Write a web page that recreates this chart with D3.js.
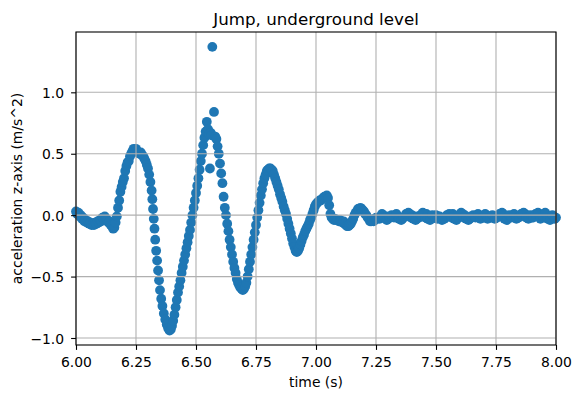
<!DOCTYPE html>
<html><head><meta charset="utf-8">
<script src="https://cdn.jsdelivr.net/npm/d3@7"></script>
<style>
body{margin:0;background:#fff}
text{font-family:"DejaVu Sans",sans-serif}
</style>
</head><body>
<svg id="c" width="572" height="397"></svg>
<script>
const chartTitle = "Jump, underground level";
const xLabel = "time (s)";
const yLabel = "acceleration z-axis (m/s^2)";
const xTicks = [6.00, 6.25, 6.50, 6.75, 7.00, 7.25, 7.50, 7.75, 8.00];
const yTicks = [-1.0, -0.5, 0.0, 0.5, 1.0];

const time = [
6.000,6.005,6.010,6.015,6.020,6.025,6.030,6.035,6.040,6.045,
6.050,6.055,6.060,6.065,6.070,6.075,6.080,6.085,6.090,6.095,
6.100,6.105,6.110,6.115,6.120,6.125,6.130,6.135,6.140,6.145,
6.150,6.155,6.160,6.165,6.170,6.175,6.180,6.185,6.190,6.195,
6.200,6.205,6.210,6.215,6.220,6.225,6.230,6.235,6.240,6.245,
6.250,6.255,6.260,6.265,6.270,6.275,6.280,6.285,6.290,6.295,
6.300,6.305,6.310,6.315,6.318,6.321,6.324,6.327,6.330,6.334,
6.338,6.342,6.346,6.350,6.355,6.360,6.366,6.372,6.378,6.384,6.390,
6.395,6.400,6.405,6.410,6.415,6.420,6.425,6.430,6.435,6.440,
6.445,6.450,6.455,6.460,6.465,6.470,6.475,6.480,6.485,6.490,
6.495,6.500,6.505,6.510,6.515,6.520,6.525,6.530,6.535,6.540,
6.545,6.550,6.555,6.558,6.562,6.565,6.568,6.575,6.580,6.585,
6.590,6.595,6.600,6.605,6.610,6.615,6.620,6.625,6.630,6.635,
6.640,6.645,6.650,6.655,6.660,6.665,6.670,6.675,6.680,6.685,
6.690,6.695,6.700,6.705,6.710,6.715,6.720,6.725,6.730,6.735,
6.740,6.745,6.750,6.755,6.760,6.765,6.770,6.775,6.780,6.785,
6.790,6.795,6.800,6.805,6.810,6.815,6.820,6.825,6.830,6.835,
6.840,6.845,6.850,6.855,6.860,6.865,6.870,6.875,6.880,6.885,
6.890,6.895,6.900,6.905,6.910,6.915,6.920,6.925,6.930,6.935,
6.940,6.945,6.950,6.955,6.960,6.965,6.970,6.975,6.980,6.985,
6.990,6.995,7.000,7.005,7.010,7.015,7.020,7.025,7.030,7.035,
7.040,7.045,7.050,7.055,7.060,7.065,7.070,7.075,7.080,7.085,
7.090,7.095,7.100,7.105,7.110,7.115,7.120,7.125,7.130,7.135,
7.140,7.145,7.150,7.155,7.160,7.165,7.170,7.175,7.180,7.185,
7.190,7.195,7.200,7.205,7.210,7.215,7.220,7.225,7.230,7.235,
7.240,7.245,7.250,
7.26,7.27,7.28,7.29,7.30,7.31,7.32,7.33,7.34,7.35,
7.36,7.37,7.38,7.39,7.40,7.41,7.42,7.43,7.44,7.45,
7.46,7.47,7.48,7.49,7.50,7.51,7.52,7.53,7.54,7.55,
7.56,7.57,7.58,7.59,7.60,7.61,7.62,7.63,7.64,7.65,
7.66,7.67,7.68,7.69,7.70,7.71,7.72,7.73,7.74,7.75,
7.76,7.77,7.78,7.79,7.80,7.81,7.82,7.83,7.84,7.85,
7.86,7.87,7.88,7.89,7.90,7.91,7.92,7.93,7.94,7.95,
7.96,7.97,7.98,7.99,8.00,
7.255,7.265,7.275,7.285,7.295,7.305,7.315,7.325,7.335,7.345,
7.355,7.365,7.375,7.385,7.395,7.405,7.415,7.425,7.435,7.445,
7.455,7.465,7.475,7.485,7.495,7.505,7.515,7.525,7.535,7.545,
7.555,7.565,7.575,7.585,7.595,7.605,7.615,7.625,7.635,7.645,
7.655,7.665,7.675,7.685,7.695,7.705,7.715,7.725,7.735,7.745,
7.755,7.765,7.775,7.785,7.795,7.805,7.815,7.825,7.835,7.845,
7.855,7.865,7.875,7.885,7.895,7.905,7.915,7.925,7.935,7.945,
7.955,7.965,7.975,7.985,7.995
];

const accel = [
0.03,0.01,0.02,-0.01,0.00,-0.03,-0.02,-0.05,-0.04,-0.06,
-0.05,-0.07,-0.06,-0.08,-0.07,-0.08,-0.06,-0.07,-0.05,-0.06,
-0.04,-0.05,-0.02,-0.03,-0.01,-0.03,-0.04,-0.06,-0.05,-0.08,
-0.09,-0.11,-0.10,-0.06,-0.01,0.06,0.12,0.19,0.23,0.27,
0.30,0.36,0.40,0.43,0.44,0.48,0.50,0.52,0.54,0.53,
0.54,0.52,0.51,0.50,0.51,0.49,0.48,0.46,0.44,0.41,
0.38,0.33,0.27,0.20,0.13,0.05,-0.03,-0.11,-0.20,-0.29,
-0.37,-0.45,-0.53,-0.61,-0.68,-0.74,-0.80,-0.85,-0.89,-0.92,-0.94,
-0.93,-0.90,-0.86,-0.81,-0.75,-0.69,-0.63,-0.58,-0.53,-0.47,
-0.42,-0.37,-0.32,-0.27,-0.22,-0.17,-0.12,-0.06,0.00,0.06,
0.12,0.18,0.24,0.30,0.37,0.44,0.50,0.57,0.63,0.68,
0.76,0.70,0.66,0.38,0.67,0.65,1.37,0.84,0.64,0.62,
0.56,0.50,0.42,0.34,0.26,0.15,0.06,0.00,-0.07,-0.13,
-0.20,-0.26,-0.32,-0.38,-0.43,-0.47,-0.52,-0.55,-0.57,-0.59,
-0.60,-0.61,-0.60,-0.58,-0.55,-0.50,-0.44,-0.38,-0.32,-0.26,
-0.20,-0.14,-0.08,-0.02,0.04,0.10,0.16,0.21,0.26,0.30,
0.33,0.36,0.37,0.38,0.38,0.37,0.36,0.33,0.30,0.27,
0.24,0.21,0.17,0.14,0.11,0.07,0.04,0.01,-0.03,-0.07,
-0.11,-0.15,-0.19,-0.23,-0.26,-0.29,-0.30,-0.29,-0.27,-0.24,
-0.21,-0.18,-0.16,-0.13,-0.11,-0.09,-0.07,-0.04,-0.02,0.01,
0.04,0.07,0.09,0.10,0.11,0.12,0.12,0.13,0.14,0.15,
0.15,0.16,0.14,0.08,0.01,-0.02,-0.03,-0.04,-0.03,-0.04,
-0.04,-0.05,-0.04,-0.05,-0.06,-0.05,-0.07,-0.08,-0.09,-0.09,
-0.08,-0.07,-0.05,-0.03,0.00,0.02,0.03,0.05,0.05,0.06,
0.05,0.04,0.03,0.01,0.00,-0.02,-0.03,-0.05,-0.05,-0.04,
-0.05,-0.03,-0.02,
-0.02,-0.01,0.00,-0.01,-0.03,-0.02,-0.01,0.00,-0.01,-0.02,
-0.03,-0.01,0.00,0.01,0.00,-0.01,-0.03,-0.02,-0.01,0.00,
0.01,-0.01,-0.02,-0.01,0.00,-0.01,-0.02,-0.03,-0.02,-0.01,
0.00,0.01,-0.01,-0.02,-0.01,0.01,0.00,-0.02,-0.03,-0.02,
-0.01,0.00,-0.01,-0.02,-0.01,0.00,-0.01,-0.02,-0.01,-0.02,
-0.01,0.00,0.01,-0.01,-0.02,-0.01,0.00,-0.01,-0.02,-0.01,
0.00,0.01,0.00,-0.01,-0.02,-0.01,0.00,-0.01,-0.02,0.01,
0.00,-0.01,-0.03,-0.01,-0.02,
-0.03,-0.03,0.01,-0.02,-0.04,-0.01,0.00,-0.02,0.01,-0.03,
-0.04,-0.02,0.01,0.02,-0.02,-0.03,-0.04,-0.01,0.00,0.02,
-0.02,-0.03,-0.04,0.00,-0.02,-0.03,-0.01,-0.04,-0.03,0.00,
0.01,-0.02,-0.03,-0.04,0.00,0.02,-0.02,-0.03,-0.04,-0.01,
0.00,-0.02,0.01,-0.03,-0.02,0.01,-0.03,-0.01,0.00,-0.03,
-0.02,0.01,0.02,-0.03,-0.04,0.00,-0.02,0.01,-0.03,-0.02,
0.01,0.02,-0.02,-0.03,0.00,-0.02,0.01,0.02,-0.03,-0.01,
0.02,-0.03,-0.04,0.00,-0.03
];

const W = 572, H = 397;
const m = {left: 76, right: 16, top: 32, bottom: 52};
const pw = W - m.left - m.right, ph = H - m.top - m.bottom;
const blue = "#1f77b4";

const svg = d3.select("#c");
const g = svg.append("g").attr("transform", `translate(${m.left},${m.top})`);

const x = d3.scaleLinear().domain([6, 8]).range([0, pw]);
const y = d3.scaleLinear().domain([-1.057, 1.491]).range([ph, 0]);

const data = time.map((t, i) => ({t, v: accel[i]}));

// points
g.append("g").selectAll("circle").data(data).join("circle")
  .attr("cx", d => x(d.t)).attr("cy", d => y(d.v))
  .attr("r", 4.9).attr("fill", blue);

// grid (matplotlib draws it above the scatter)
const grid = g.append("g").attr("stroke", "#b0b0b0").attr("stroke-width", 1.1);
grid.selectAll(".gx").data(xTicks).join("line")
  .attr("x1", d => x(d)).attr("x2", d => x(d)).attr("y1", 0).attr("y2", ph);
grid.selectAll(".gy").data(yTicks).join("line")
  .attr("y1", d => y(d)).attr("y2", d => y(d)).attr("x1", 0).attr("x2", pw);

// axes
const fmtX = d3.format(".2f"), fmtY = d3.format(".1f");
const xa = g.append("g").attr("transform", `translate(0,${ph})`)
  .call(d3.axisBottom(x).tickValues(xTicks).tickFormat(fmtX).tickSize(4.9).tickPadding(7.7));
const ya = g.append("g")
  .call(d3.axisLeft(y).tickValues(yTicks).tickFormat(fmtY).tickSize(4.9).tickPadding(7));
[xa, ya].forEach(a => {
  a.select(".domain").remove();
  a.selectAll("line").attr("stroke", "#000").attr("stroke-width", 1.1);
  a.selectAll("text").attr("fill", "#000").style("font-size", "13.9px")
    .style("font-family", '"DejaVu Sans", sans-serif');
});
ya.selectAll("text").attr("dy", "0.36em");

// spines
g.append("rect").attr("x", 0).attr("y", 0).attr("width", pw).attr("height", ph)
  .attr("fill", "none").attr("stroke", "#000").attr("stroke-width", 1.1);

// labels
svg.append("text").attr("x", m.left + pw / 2).attr("y", 24.5)
  .attr("text-anchor", "middle").style("font-size", "16.7px").text(chartTitle);
svg.append("text").attr("x", m.left + pw / 2).attr("y", 386.5)
  .attr("text-anchor", "middle").style("font-size", "13.9px").text(xLabel);
svg.append("text").attr("transform", `translate(22,${m.top + ph / 2}) rotate(-90)`)
  .attr("text-anchor", "middle").style("font-size", "13.9px").text(yLabel);
</script>
</body></html>
